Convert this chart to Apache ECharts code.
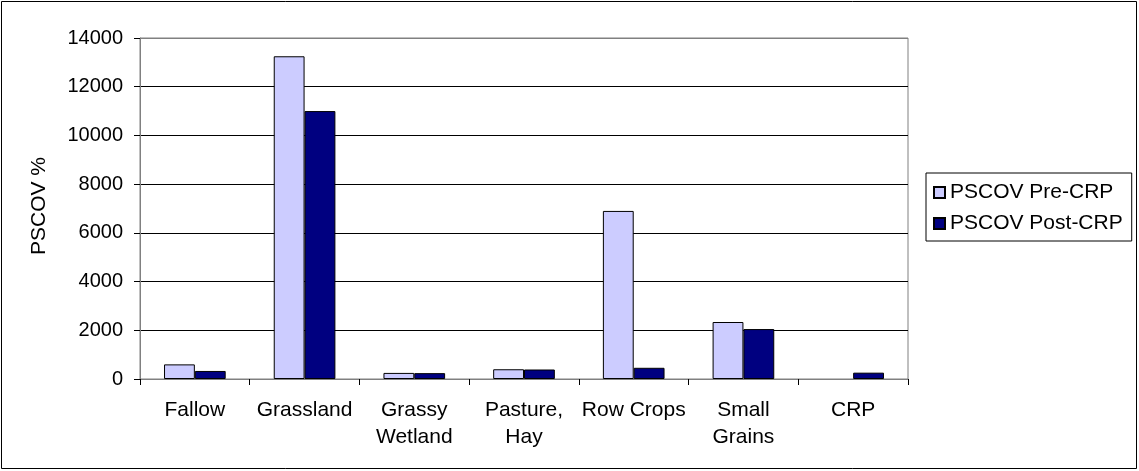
<!DOCTYPE html>
<html>
<head>
<meta charset="utf-8">
<title>PSCOV by land cover</title>
<script src="https://cdn.jsdelivr.net/npm/echarts@6/dist/echarts.min.js"></script>
<style>
  html, body { margin: 0; padding: 0; background: #fff; }
  #chart { width: 1139px; height: 471px; }
</style>
</head>
<body>
<div id="chart"></div>
<script>
// Land-cover categories on the x axis
const categories = ['Fallow', 'Grassland', 'Grassy\nWetland', 'Pasture,\nHay', 'Row Crops', 'Small\nGrains', 'CRP'];

// PSCOV values before and after CRP enrollment
const preCrp = [600, 13250, 250, 400, 6900, 2340, 0];
const postCrp = [330, 11000, 240, 390, 460, 2050, 260];

const seriesNames = ['PSCOV Pre-CRP', 'PSCOV Post-CRP'];
const yAxisTitle = 'PSCOV %';

const font = 'Arial, "Liberation Sans", sans-serif';

// A zero-height bar shows no outline
const asBarData = values => values.map(v => (v === 0 ? { value: v, itemStyle: { borderWidth: 0 } } : v));

const chart = echarts.init(document.getElementById('chart'), null, { renderer: 'canvas' });

chart.setOption({
  animation: false,
  backgroundColor: '#ffffff',
  grid: {
    left: 140, right: 231, top: 38, bottom: 92,
    show: true, borderColor: '#808080', borderWidth: 1
  },
  legend: {
    orient: 'vertical',
    left: 926, top: 173,
    padding: [9, 9, 7, 7],
    itemGap: 10,
    itemWidth: 11, itemHeight: 11,
    icon: 'rect',
    borderColor: '#000', borderWidth: 1,
    textStyle: { fontFamily: font, fontSize: 21, color: '#000' },
    data: seriesNames
  },
  xAxis: {
    type: 'category',
    data: categories,
    axisLine: { lineStyle: { color: '#808080', width: 1 } },
    axisTick: { show: true, length: 6, lineStyle: { color: '#000' } },
    axisLabel: {
      fontFamily: font, fontSize: 21, color: '#000',
      lineHeight: 27, margin: 18, interval: 0
    },
    splitLine: { show: false }
  },
  yAxis: {
    type: 'value',
    min: 0, max: 14000, interval: 2000,
    axisLine: { show: true, lineStyle: { color: '#808080', width: 1 } },
    axisTick: { show: true, length: 6, lineStyle: { color: '#000' } },
    axisLabel: {
      fontFamily: font, fontSize: 20, color: '#000', margin: 17,
      formatter: v => String(v)
    },
    splitLine: {
      show: true,
      lineStyle: {
        color: ['#808080', '#000', '#000', '#000', '#000', '#000', '#000', '#808080'],
        width: 1
      }
    }
  },
  graphic: [
    {
      type: 'text',
      x: 39, y: 206,
      rotation: Math.PI / 2,
      style: {
        text: yAxisTitle,
        fontFamily: font, fontSize: 21, fill: '#000',
        align: 'center', verticalAlign: 'middle'
      }
    },
    {
      type: 'rect',
      shape: { x: 1.5, y: 1.5, width: 1135, height: 467 },
      style: { fill: null, stroke: '#000', lineWidth: 1 },
      silent: true
    }
  ],
  series: [
    {
      name: seriesNames[0],
      type: 'bar',
      data: asBarData(preCrp),
      barGap: '0%',
      barCategoryGap: '43.8%',
      itemStyle: { color: '#CCCCFF', borderColor: '#000', borderWidth: 1 }
    },
    {
      name: seriesNames[1],
      type: 'bar',
      data: asBarData(postCrp),
      barGap: '0%',
      barCategoryGap: '43.8%',
      itemStyle: { color: '#000080', borderColor: '#000', borderWidth: 1 }
    }
  ]
});
</script>
</body>
</html>
